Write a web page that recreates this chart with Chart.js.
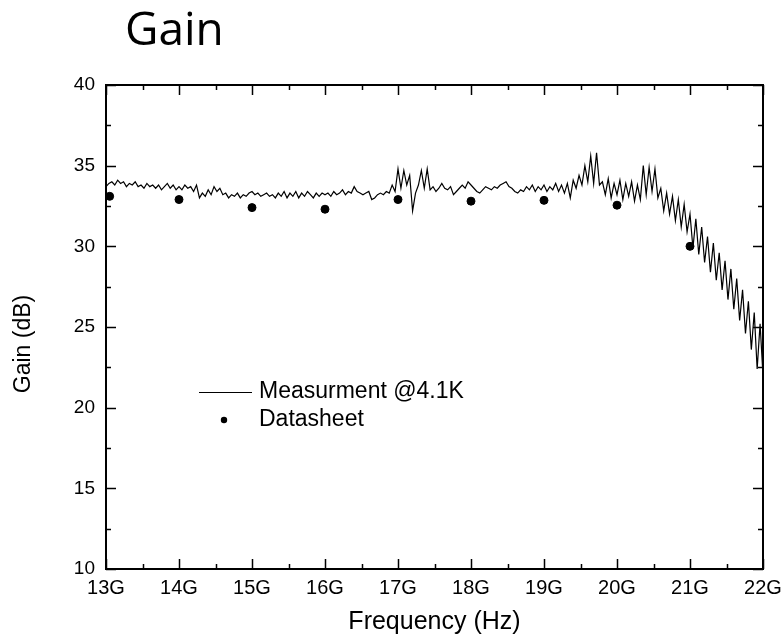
<!DOCTYPE html>
<html>
<head>
<meta charset="utf-8">
<script src="https://cdn.jsdelivr.net/npm/chart.js@4/dist/chart.umd.min.js"></script>
<style>
  body { margin: 0; background: #fff; }
</style>
</head>
<body>
<canvas id="gainChart" width="784" height="643"></canvas>
<script>
// measured sweep: 13 GHz .. 22 GHz, one point every 40 MHz
const sweepStart = 13;
const sweepStep = 0.04;
const gain13 = [33.7, 33.9, 34.0, 33.8, 34.1, 33.9, 34.0, 33.7, 33.9, 33.8, 34.0, 33.7, 33.8, 33.6, 33.9, 33.7, 33.8, 33.6, 33.8, 33.5, 33.7, 33.9, 33.6, 33.8, 33.5];
const gain14 = [33.7, 33.5, 33.8, 33.6, 33.7, 33.4, 33.8, 33.0, 33.3, 33.1, 33.5, 33.2, 33.7, 33.4, 33.6, 33.2, 33.3, 33.0, 33.2, 33.1, 33.3, 33.0, 33.2, 33.1, 33.3];
const gain15 = [33.4, 33.2, 33.3, 33.1, 33.2, 33.3, 33.1, 33.2, 33.0, 33.3, 33.1, 33.4, 33.0, 33.3, 33.1, 33.4, 33.0, 33.3, 33.1, 33.4, 33.2, 33.0, 33.3, 33.1, 33.3];
const gain16 = [33.2, 33.3, 33.1, 33.4, 33.2, 33.3, 33.5, 33.2, 33.4, 33.3, 33.7, 33.4, 33.3, 33.2, 33.3, 33.4, 32.9, 33.0, 33.2, 33.3, 33.2, 33.4, 33.3, 33.8, 33.4];
const gain17 = [34.8, 33.6, 34.7, 33.8, 34.4, 32.2, 33.3, 33.8, 34.7, 33.6, 34.8, 33.5, 33.7, 33.4, 33.6, 33.9, 33.6, 33.5, 33.7, 33.2, 33.4, 33.6, 33.8, 33.6, 34.0];
const gain18 = [33.8, 33.6, 33.4, 33.3, 33.5, 33.7, 33.6, 33.5, 33.7, 33.6, 33.8, 33.9, 34.0, 33.7, 33.6, 33.4, 33.3, 33.5, 33.4, 33.7, 33.5, 33.8, 33.4, 33.7, 33.5];
const gain19 = [33.8, 33.4, 33.7, 33.5, 33.9, 33.4, 33.8, 33.3, 33.9, 33.0, 34.1, 33.6, 34.4, 33.8, 35.0, 34.0, 35.6, 33.9, 35.8, 33.8, 34.0, 33.2, 34.2, 33.0, 33.9];
const gain20 = [33.2, 34.1, 32.9, 33.9, 33.1, 34.0, 32.8, 33.8, 32.9, 35.0, 33.2, 34.9, 33.4, 34.8, 33.0, 33.6, 32.2, 33.3, 32.0, 33.1, 31.6, 32.9, 31.2, 32.6, 30.9];
const gain21 = [32.0, 29.9, 31.7, 29.5, 31.2, 29.0, 30.6, 28.4, 30.2, 27.9, 29.6, 27.3, 29.1, 26.7, 28.6, 26.1, 28.0, 25.4, 27.3, 24.6, 26.6, 23.6, 25.9, 22.4, 25.2, 22.0];

// datasheet values
const sheetFreq = [13.05, 14, 15, 16, 17, 18, 19, 20, 21];
const sheetGain = [33.1, 32.9, 32.4, 32.3, 32.9, 32.8, 32.85, 32.55, 30.0];

const measGain = [].concat(gain13, gain14, gain15, gain16, gain17, gain18, gain19, gain20, gain21);
const measPoints = measGain.map((g, i) => ({x: sweepStart + i * sweepStep, y: g}));
const sheetPoints = sheetFreq.map((f, i) => ({x: f, y: sheetGain[i]}));

const axisFont = 'Liberation Sans, Arial, sans-serif';

// frame, inward ticks, title, axis titles and legend
const decorations = {
    id: 'decorations',
    afterDraw(chart) {
        const ctx = chart.ctx;
        const a = chart.chartArea;
        const xs = chart.scales.x, ys = chart.scales.y;
        ctx.save();
        ctx.strokeStyle = '#000';
        ctx.lineWidth = 2;
        ctx.strokeRect(a.left, a.top, a.right - a.left, a.bottom - a.top);
        ctx.lineWidth = 1.5;
        ctx.beginPath();
        for (let v = xs.min; v <= xs.max + 1e-6; v += 0.5) {
            const px = Math.round(xs.getPixelForValue(v)) + 0.5;
            const len = Number.isInteger(v) ? 10 : 5;
            ctx.moveTo(px, a.bottom); ctx.lineTo(px, a.bottom - len);
            ctx.moveTo(px, a.top); ctx.lineTo(px, a.top + len);
        }
        for (let v = ys.min; v <= ys.max + 1e-6; v += 2.5) {
            const py = Math.round(ys.getPixelForValue(v)) + 0.5;
            const len = (v % 5 === 0) ? 10 : 5;
            ctx.moveTo(a.left, py); ctx.lineTo(a.left + len, py);
            ctx.moveTo(a.right, py); ctx.lineTo(a.right - len, py);
        }
        ctx.stroke();

        ctx.fillStyle = '#000';
        ctx.font = '46px "Open Sans"';
        ctx.textAlign = 'left';
        ctx.textBaseline = 'alphabetic';
        ctx.fillText(chart.options.plugins.title.text, 125, 45);

        ctx.textAlign = 'center';
        ctx.textBaseline = 'middle';
        ctx.font = '25px ' + axisFont;
        ctx.fillText(xs.options.title.text, (a.left + a.right) / 2, 622);
        ctx.save();
        ctx.font = '23px ' + axisFont;
        ctx.translate(24, 344);
        ctx.rotate(-Math.PI / 2);
        ctx.fillText(ys.options.title.text, 0, 0);
        ctx.restore();

        // legend
        const ds = chart.data.datasets;
        ctx.font = '23px ' + axisFont;
        ctx.textAlign = 'left';
        ctx.lineWidth = 1;
        ctx.beginPath();
        ctx.moveTo(199, 392.5); ctx.lineTo(252, 392.5);
        ctx.stroke();
        ctx.fillText(ds[0].label, 259, 392);
        ctx.beginPath();
        ctx.arc(224, 420, 3.2, 0, Math.PI * 2);
        ctx.fill();
        ctx.fillText(ds[1].label, 259, 420);
        ctx.restore();
    }
};

new Chart(document.getElementById('gainChart'), {
    type: 'scatter',
    data: {
        datasets: [{
            label: 'Measurment @4.1K',
            data: measPoints,
            showLine: true,
            borderColor: '#000',
            borderWidth: 1.2,
            pointRadius: 0,
            tension: 0
        }, {
            label: 'Datasheet',
            data: sheetPoints,
            backgroundColor: '#000',
            borderColor: '#000',
            pointRadius: 4,
            clip: false
        }]
    },
    options: {
        responsive: false,
        animation: false,
        layout: { padding: { top: 85, right: 21, left: 0, bottom: 0 } },
        plugins: {
            legend: { display: false },
            tooltip: { enabled: false },
            title: { display: false, text: 'Gain' }
        },
        scales: {
            x: {
                type: 'linear',
                min: 13, max: 22,
                title: { display: false, text: 'Frequency (Hz)' },
                grid: { display: false, drawTicks: false },
                border: { display: false },
                ticks: {
                    stepSize: 1,
                    padding: 7,
                    color: '#000',
                    font: { family: axisFont, size: 20 },
                    callback: v => v + 'G'
                },
                afterFit: s => { s.height = 74; s.paddingLeft = 0; s.paddingRight = 0; }
            },
            y: {
                min: 10, max: 40,
                title: { display: false, text: 'Gain (dB)' },
                grid: { display: false, drawTicks: false },
                border: { display: false },
                ticks: {
                    stepSize: 5,
                    padding: 11,
                    color: '#000',
                    font: { family: axisFont, size: 19 }
                },
                afterFit: s => { s.width = 106; s.paddingTop = 0; s.paddingBottom = 0; }
            }
        }
    },
    plugins: [decorations]
});
</script>
</body>
</html>
